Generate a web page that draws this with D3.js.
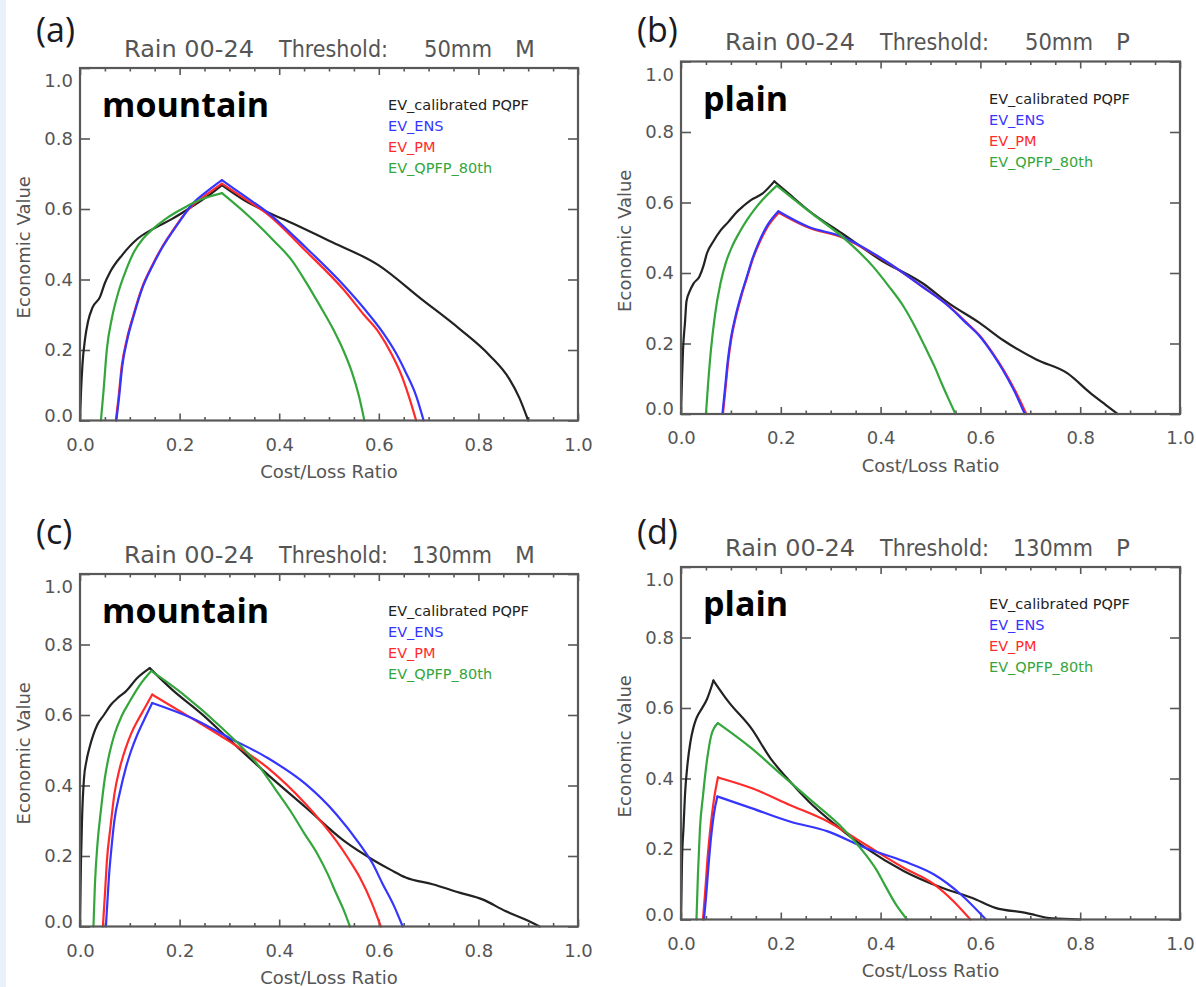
<!doctype html>
<html lang="en">
<head>
<meta charset="utf-8">
<title>Economic value vs cost/loss ratio</title>
<script src="https://cdn.jsdelivr.net/npm/d3@7"></script>
<style>
  body { margin: 0; background: #fff; }
  svg { display: block; }
</style>
</head>
<body>
<div id="chart"></div>
<script>
// ---- data ----
var xMajor = [0, 0.2, 0.4, 0.6, 0.8, 1.0];
var xMinor = [0.05, 0.1, 0.15, 0.25, 0.3, 0.35, 0.45, 0.5, 0.55, 0.65, 0.7, 0.75, 0.85, 0.9, 0.95];
var yMajor = [0, 0.2, 0.4, 0.6, 0.8, 1.0];

var legendNames = ["EV_calibrated PQPF", "EV_ENS", "EV_PM", "EV_QPFP_80th"];
var panelLabels = ["(a)", "(b)", "(c)", "(d)"];
var regionNames = ["mountain", "plain", "mountain", "plain"];
var thresholds = ["50mm", "50mm", "130mm", "130mm"];
var regionCodes = ["M", "P", "M", "P"];
var rainPeriod = "Rain 00-24";
var xTitle = "Cost/Loss Ratio";
var yTitle = "Economic Value";

// (a) 50mm mountain
var aCal = [[0,0],[0.002,0.08],[0.005,0.16],[0.01,0.23],[0.016,0.28],[0.025,0.32],[0.04,0.35],[0.05,0.39],[0.06,0.42],[0.085,0.47],[0.115,0.515],[0.146,0.543],[0.185,0.572],[0.223,0.605],[0.255,0.635],[0.285,0.668],[0.33,0.625],[0.37,0.595],[0.41,0.57],[0.5,0.51],[0.6,0.44],[0.685,0.345],[0.762,0.26],[0.823,0.184],[0.862,0.118],[0.882,0.065],[0.9,0]];
var aEns = [[0.073,0],[0.078,0.06],[0.085,0.156],[0.095,0.23],[0.108,0.298],[0.125,0.375],[0.146,0.44],[0.165,0.49],[0.185,0.534],[0.205,0.575],[0.223,0.61],[0.255,0.65],[0.285,0.682],[0.33,0.637],[0.377,0.59],[0.454,0.49],[0.53,0.383],[0.575,0.31],[0.608,0.25],[0.635,0.19],[0.654,0.137],[0.675,0.07],[0.69,0]];
var aPm = [[0.072,0],[0.077,0.06],[0.084,0.156],[0.094,0.23],[0.107,0.298],[0.124,0.375],[0.145,0.44],[0.164,0.49],[0.184,0.534],[0.204,0.575],[0.222,0.605],[0.255,0.642],[0.285,0.672],[0.33,0.63],[0.377,0.585],[0.454,0.48],[0.53,0.37],[0.57,0.3],[0.6,0.25],[0.625,0.19],[0.645,0.13],[0.66,0.07],[0.675,0]];
var aQpf = [[0.042,0],[0.047,0.08],[0.054,0.203],[0.064,0.29],[0.077,0.364],[0.092,0.425],[0.108,0.477],[0.126,0.515],[0.146,0.543],[0.17,0.57],[0.192,0.59],[0.215,0.608],[0.238,0.624],[0.262,0.636],[0.285,0.645],[0.338,0.581],[0.392,0.506],[0.425,0.455],[0.454,0.392],[0.48,0.33],[0.508,0.26],[0.53,0.195],[0.546,0.137],[0.56,0.07],[0.571,0]];

// (b) 50mm plain
var bCal = [[0,0],[0.002,0.1],[0.004,0.18],[0.008,0.26],[0.011,0.32],[0.018,0.35],[0.025,0.37],[0.037,0.39],[0.045,0.42],[0.052,0.456],[0.065,0.49],[0.079,0.52],[0.095,0.545],[0.109,0.569],[0.125,0.59],[0.14,0.607],[0.163,0.625],[0.187,0.66],[0.22,0.62],[0.255,0.578],[0.323,0.512],[0.4,0.437],[0.484,0.371],[0.537,0.314],[0.599,0.258],[0.645,0.21],[0.713,0.154],[0.774,0.116],[0.82,0.06],[0.851,0.026],[0.875,0]];
var bEns = [[0.083,0],[0.088,0.07],[0.094,0.154],[0.1,0.215],[0.109,0.276],[0.12,0.335],[0.132,0.39],[0.143,0.44],[0.155,0.484],[0.173,0.535],[0.195,0.575],[0.255,0.531],[0.323,0.503],[0.407,0.437],[0.484,0.361],[0.537,0.305],[0.57,0.26],[0.599,0.22],[0.625,0.17],[0.645,0.125],[0.668,0.065],[0.689,0]];
var bPm = [[0.084,0],[0.089,0.07],[0.095,0.154],[0.101,0.215],[0.11,0.276],[0.121,0.335],[0.133,0.39],[0.144,0.44],[0.156,0.482],[0.174,0.532],[0.196,0.571],[0.255,0.529],[0.323,0.501],[0.407,0.436],[0.484,0.361],[0.537,0.306],[0.57,0.262],[0.599,0.222],[0.625,0.172],[0.646,0.126],[0.67,0.065],[0.692,0]];
var bQpf = [[0.05,0],[0.054,0.08],[0.06,0.182],[0.068,0.28],[0.079,0.37],[0.09,0.43],[0.102,0.474],[0.117,0.515],[0.132,0.55],[0.147,0.58],[0.163,0.607],[0.192,0.648],[0.262,0.569],[0.323,0.503],[0.385,0.418],[0.415,0.365],[0.446,0.305],[0.47,0.245],[0.492,0.182],[0.508,0.135],[0.522,0.088],[0.537,0.04],[0.55,0]];

// (c) 130mm mountain
var cCal = [[0,0],[0.001,0.1],[0.002,0.186],[0.004,0.3],[0.008,0.42],[0.013,0.47],[0.019,0.507],[0.027,0.545],[0.035,0.573],[0.048,0.6],[0.062,0.629],[0.077,0.65],[0.092,0.667],[0.115,0.705],[0.14,0.733],[0.185,0.672],[0.246,0.601],[0.3,0.53],[0.377,0.431],[0.454,0.337],[0.531,0.242],[0.592,0.186],[0.625,0.16],[0.654,0.139],[0.708,0.12],[0.762,0.096],[0.808,0.077],[0.854,0.044],[0.892,0.021],[0.923,0]];
var cEns = [[0.052,0],[0.055,0.07],[0.058,0.139],[0.063,0.22],[0.069,0.3],[0.08,0.38],[0.092,0.45],[0.103,0.5],[0.115,0.544],[0.13,0.59],[0.145,0.634],[0.223,0.592],[0.3,0.535],[0.377,0.478],[0.454,0.403],[0.515,0.318],[0.562,0.233],[0.587,0.18],[0.608,0.12],[0.63,0.06],[0.648,0]];
var cPm = [[0.046,0],[0.05,0.09],[0.054,0.186],[0.061,0.28],[0.069,0.375],[0.08,0.45],[0.092,0.507],[0.103,0.548],[0.115,0.582],[0.13,0.62],[0.145,0.658],[0.223,0.592],[0.3,0.525],[0.377,0.45],[0.454,0.346],[0.515,0.242],[0.54,0.19],[0.562,0.139],[0.585,0.07],[0.604,0]];
var cQpf = [[0.027,0],[0.03,0.12],[0.035,0.233],[0.042,0.33],[0.05,0.422],[0.059,0.49],[0.069,0.544],[0.083,0.595],[0.1,0.639],[0.12,0.685],[0.143,0.725],[0.208,0.658],[0.285,0.563],[0.362,0.45],[0.392,0.39],[0.423,0.327],[0.45,0.265],[0.477,0.205],[0.497,0.15],[0.515,0.092],[0.53,0.045],[0.542,0]];

// (d) 130mm plain
var dCal = [[0,0],[0.001,0.08],[0.002,0.165],[0.005,0.26],[0.008,0.354],[0.013,0.44],[0.019,0.505],[0.025,0.545],[0.031,0.571],[0.042,0.599],[0.052,0.625],[0.065,0.678],[0.095,0.618],[0.141,0.542],[0.179,0.458],[0.218,0.392],[0.256,0.335],[0.309,0.269],[0.37,0.203],[0.447,0.137],[0.523,0.09],[0.584,0.061],[0.63,0.033],[0.691,0.019],[0.744,0.003],[0.8,0]];
var dEns = [[0.046,0],[0.05,0.06],[0.055,0.15],[0.06,0.23],[0.066,0.3],[0.073,0.349],[0.141,0.316],[0.218,0.278],[0.294,0.25],[0.37,0.203],[0.447,0.165],[0.508,0.127],[0.561,0.071],[0.611,0]];
var dPm = [[0.044,0],[0.048,0.07],[0.053,0.17],[0.059,0.26],[0.066,0.34],[0.074,0.403],[0.141,0.373],[0.218,0.325],[0.294,0.278],[0.37,0.212],[0.447,0.146],[0.508,0.099],[0.546,0.052],[0.58,0]];
var dQpf = [[0.031,0],[0.034,0.13],[0.038,0.259],[0.044,0.35],[0.05,0.429],[0.055,0.48],[0.061,0.524],[0.074,0.557],[0.141,0.486],[0.202,0.41],[0.263,0.335],[0.324,0.259],[0.37,0.184],[0.392,0.14],[0.408,0.099],[0.431,0.042],[0.453,0]];

// series order per panel matches legendNames
var panelSeries = [
  [aCal, aEns, aPm, aQpf],
  [bCal, bEns, bPm, bQpf],
  [cCal, cEns, cPm, cQpf],
  [dCal, dEns, dPm, dQpf]
];

// ---- layout / style ----
var colors = ["#222222", "#3535ff", "#ff2b2b", "#34a63c"];
var drawOrder = [0, 2, 1, 3];   // black, red, blue, green
var boxes = [
  { l: 80,  t: 68,   w: 498, h: 352.5 },
  { l: 681, t: 61.5, w: 499, h: 352.5 },
  { l: 80,  t: 574,  w: 498, h: 352.5 },
  { l: 681, t: 567,  w: 499, h: 352.5 }
];
var labelBaseline = [42, 42, 544, 544];
var axisGray = "#585858";
var textGray = "#555555";
var plotFont = "'DejaVu Sans', 'Liberation Sans', sans-serif";
var fmt = d3.format(".1f");

var svg = d3.select("#chart").append("svg")
  .attr("width", 1196)
  .attr("height", 987);

// thin light-blue strip on the left edge
svg.append("rect").attr("x", 0).attr("y", 0).attr("width", 6).attr("height", 987).attr("fill", "#e9f1fb");

function styleAxis(sel) {
  sel.attr("font-family", plotFont).attr("font-size", 18);
  sel.select(".domain").remove();
  sel.selectAll("line").attr("stroke", axisGray).attr("stroke-width", 1.6);
  sel.selectAll("text").attr("fill", textGray);
}

// split a curve at its maximum so the smooth interpolation keeps the sharp peak
function splitAtPeak(data) {
  var p = d3.maxIndex(data, function (d) { return d[1]; });
  return [data.slice(0, p + 1), data.slice(p)];
}

boxes.forEach(function (b, i) {
  var x = d3.scaleLinear().domain([0, 1]).range([0, b.w]);
  var y = d3.scaleLinear().domain([0, 1]).range([b.h, 0]);

  var g = svg.append("g").attr("transform", "translate(" + b.l + "," + b.t + ")");

  // axes: bottom / top (major + minor), left / right
  g.append("g").attr("transform", "translate(0," + b.h + ")")
    .call(d3.axisBottom(x).tickValues(xMajor).tickFormat(fmt).tickSizeInner(-7).tickSizeOuter(0).tickPadding(17.5))
    .call(styleAxis);
  g.append("g").attr("transform", "translate(0," + b.h + ")")
    .call(d3.axisBottom(x).tickValues(xMinor).tickFormat("").tickSizeInner(-3.5).tickSizeOuter(0))
    .call(styleAxis);
  g.append("g")
    .call(d3.axisTop(x).tickValues(xMajor).tickFormat("").tickSizeInner(-7).tickSizeOuter(0))
    .call(styleAxis);
  g.append("g")
    .call(d3.axisTop(x).tickValues(xMinor).tickFormat("").tickSizeInner(-3.5).tickSizeOuter(0))
    .call(styleAxis);
  var left = g.append("g")
    .call(d3.axisLeft(y).tickValues(yMajor).tickFormat(fmt).tickSizeInner(-10).tickSizeOuter(0).tickPadding(7))
    .call(styleAxis);
  // IDL keeps the end labels inside the axis range
  left.selectAll("text").attr("dy", function (d) {
    if (d === 1) return "1.05em";
    if (d === 0) return "0.05em";
    return "0.32em";
  });
  g.append("g").attr("transform", "translate(" + b.w + ",0)")
    .call(d3.axisRight(y).tickValues(yMajor).tickFormat("").tickSizeInner(-10).tickSizeOuter(0))
    .call(styleAxis);

  // curves
  var line = d3.line()
    .x(function (d) { return x(d[0]); })
    .y(function (d) { return y(d[1]); })
    .curve(d3.curveMonotoneX);
  drawOrder.forEach(function (k) {
    var parts = splitAtPeak(panelSeries[i][k]);
    parts.forEach(function (part) {
      g.append("path")
        .datum(part)
        .attr("d", line)
        .attr("fill", "none")
        .attr("stroke", colors[k])
        .attr("stroke-width", 2.2)
        .attr("stroke-linejoin", "round")
        .attr("stroke-linecap", "round");
    });
  });

  // frame
  g.append("rect")
    .attr("width", b.w).attr("height", b.h)
    .attr("fill", "none").attr("stroke", axisGray).attr("stroke-width", 2.2);

  // title pieces
  var title = g.append("g").attr("font-family", plotFont).attr("font-size", 23).attr("fill", textGray);
  title.append("text").attr("x", 44).attr("y", -11.5)
    .attr("textLength", 130).attr("lengthAdjust", "spacingAndGlyphs").text(rainPeriod);
  title.append("text").attr("x", 199).attr("y", -11.5)
    .attr("textLength", 109).attr("lengthAdjust", "spacingAndGlyphs").text("Threshold:");
  title.append("text").attr("x", 412).attr("y", -11.5).attr("text-anchor", "end")
    .attr("textLength", thresholds[i].length === 4 ? 68 : 80).attr("lengthAdjust", "spacingAndGlyphs")
    .text(thresholds[i]);
  title.append("text").attr("x", 435).attr("y", -11.5).text(regionCodes[i]);

  // axis titles
  g.append("text")
    .attr("x", b.w / 2).attr("y", b.h + 57.5)
    .attr("text-anchor", "middle")
    .attr("font-family", plotFont).attr("font-size", 18).attr("fill", textGray)
    .text(xTitle);
  g.append("text")
    .attr("transform", "translate(-57," + (b.h / 2 + 3) + ") rotate(-90)")
    .attr("text-anchor", "middle").attr("dominant-baseline", "central")
    .attr("font-family", plotFont).attr("font-size", 18).attr("fill", textGray)
    .text(yTitle);

  // legend (coloured text only)
  g.selectAll(".leg").data(legendNames).enter().append("text")
    .attr("x", 308)
    .attr("y", function (d, k) { return 42 + k * 21; })
    .attr("font-family", plotFont).attr("font-size", 14.5)
    .attr("fill", function (d, k) { return colors[k]; })
    .text(function (d) { return d; });

  // region name
  g.append("text")
    .attr("x", 22).attr("y", 49)
    .attr("font-family", "'Open Sans', 'Noto Sans', sans-serif")
    .attr("font-weight", 700).attr("font-size", 34).attr("fill", "#000")
    .text(regionNames[i]);

  // panel letter
  svg.append("text")
    .attr("x", b.l - 44).attr("y", labelBaseline[i])
    .attr("font-family", "'Open Sans', 'Noto Sans', sans-serif")
    .attr("font-size", 34).attr("fill", "#1a1a22")
    .text(panelLabels[i]);
});
</script>
</body>
</html>
